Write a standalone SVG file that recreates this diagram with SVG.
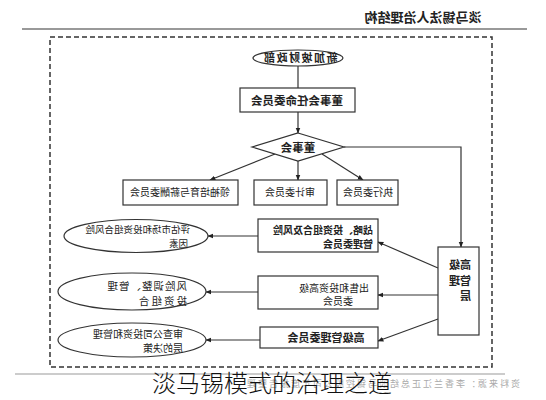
<svg xmlns="http://www.w3.org/2000/svg" width="546" height="400" viewBox="0 0 546 400">
<defs>
<marker id="arr" viewBox="0 0 10 10" refX="9" refY="5" markerWidth="6" markerHeight="6" orient="auto" markerUnits="userSpaceOnUse">
<path d="M0,1 L10,5 L0,9 z" fill="#222"/>
</marker>
</defs>
<style>
.box{fill:#fff;stroke:#333;stroke-width:1.2}
.ln{fill:none;stroke:#333;stroke-width:1.2}
.t{font-family:"Noto Sans CJK SC","Noto Sans",sans-serif;fill:#222}
.b{font-weight:bold}
.m{text-anchor:middle}
</style>
<rect width="546" height="400" fill="#fff"/>
<text class="t b m" x="-423" y="22" font-size="13" transform="scale(-1,1)">淡马锡法人治理结构</text>
<line x1="22" y1="29" x2="527" y2="29" stroke="#777" stroke-width="1.5"/>
<rect x="50" y="37" width="442" height="330" fill="none" stroke="#333" stroke-width="1.5" stroke-dasharray="5,3"/>
<g id="connectors">
<line class="ln" x1="298" y1="66" x2="298" y2="88"/>
<line class="ln" x1="298" y1="112" x2="298" y2="133" marker-end="url(#arr)"/>
<polyline class="ln" points="344,147 461,147 461,247" marker-end="url(#arr)"/>
<line class="ln" x1="275" y1="154" x2="210" y2="180" marker-end="url(#arr)"/>
<line class="ln" x1="298" y1="161" x2="298" y2="180" marker-end="url(#arr)"/>
<line class="ln" x1="322" y1="154" x2="363" y2="180" marker-end="url(#arr)"/>
<line class="ln" x1="438" y1="268" x2="378" y2="242" marker-end="url(#arr)"/>
<line class="ln" x1="438" y1="295" x2="378" y2="295" marker-end="url(#arr)"/>
<line class="ln" x1="438" y1="319" x2="378" y2="341" marker-end="url(#arr)"/>
<line class="ln" x1="258" y1="236" x2="208" y2="236" marker-end="url(#arr)"/>
<line class="ln" x1="258" y1="292" x2="206" y2="292" marker-end="url(#arr)"/>
<line class="ln" x1="260" y1="340" x2="206" y2="340" marker-end="url(#arr)"/>
</g>
<g id="mof">
<ellipse class="box" cx="298" cy="58" rx="45" ry="8"/>
<text class="t b m" x="-300" y="62" font-size="11" transform="scale(-1,1)" letter-spacing="1.5">新加坡财政部</text>
</g>
<g id="nominating">
<rect class="box" x="240" y="88" width="115" height="24"/>
<text class="t b m" x="-297" y="104.5" font-size="11.5" transform="scale(-1,1)">董事会任命委员会</text>
</g>
<g id="board">
<polygon class="box" points="298,133 344,147 298,161 252,147"/>
<text class="t b m" x="-298" y="151.5" font-size="11.5" transform="scale(-1,1)">董事会</text>
</g>
<g id="ldcc">
<rect class="box" x="123" y="180" width="115" height="25"/>
<text class="t m" x="-180" y="196" font-size="10" transform="scale(-1,1)">领袖培育与薪酬委员会</text>
</g>
<g id="audit">
<rect class="box" x="254" y="180" width="73" height="25"/>
<text class="t m" x="-290" y="196" font-size="10" transform="scale(-1,1)">审计委员会</text>
</g>
<g id="exco">
<rect class="box" x="337" y="180" width="61" height="25"/>
<text class="t m" x="-368" y="196" font-size="10" transform="scale(-1,1)">执行委员会</text>
</g>
<g id="senior">
<rect class="box" x="438" y="247" width="41" height="88"/>
<text class="t b" x="-471" y="269" font-size="11" transform="scale(-1,1)">高级</text>
<text class="t b" x="-471" y="284.5" font-size="11" transform="scale(-1,1)">管理</text>
<text class="t b" x="-471" y="300" font-size="11" transform="scale(-1,1)">层</text>
</g>
<g id="spcc">
<rect class="box" x="258" y="219" width="120" height="33"/>
<text class="t b" x="-373" y="234" font-size="10" transform="scale(-1,1)">战略、投资组合及风险</text>
<text class="t b" x="-373" y="247.5" font-size="10" transform="scale(-1,1)">管理委员会</text>
</g>
<g id="dic">
<rect class="box" x="258" y="276" width="120" height="33"/>
<text class="t m" x="-334" y="291.5" font-size="10" transform="scale(-1,1)">出售和投资高级</text>
<text class="t m" x="-338" y="305" font-size="10" transform="scale(-1,1)">委员会</text>
</g>
<g id="smc">
<rect class="box" x="260" y="327" width="118" height="21"/>
<text class="t b m" x="-326" y="342" font-size="11" transform="scale(-1,1)">高级管理委员会</text>
</g>
<g id="e1">
<ellipse class="box" cx="136" cy="236" rx="72" ry="16.5"/>
<text class="t" x="-190" y="233" font-size="9.5" transform="scale(-1,1)">评估市场和投资组合风险</text>
<text class="t" x="-188" y="246.5" font-size="9.5" transform="scale(-1,1)">因素</text>
</g>
<g id="e2">
<ellipse class="box" cx="132" cy="291.5" rx="74" ry="18.5"/>
<text class="t" x="-187" y="290" font-size="10.5" transform="scale(-1,1)" letter-spacing="1">风险调整、管理</text>
<text class="t" x="-187" y="304.5" font-size="10.5" transform="scale(-1,1)" letter-spacing="2">投资组合</text>
</g>
<g id="e3">
<ellipse class="box" cx="132" cy="340" rx="74" ry="17"/>
<text class="t" x="-183" y="337.5" font-size="10" transform="scale(-1,1)">审查公司投资和管理</text>
<text class="t" x="-183" y="351.5" font-size="10" transform="scale(-1,1)">层的决策</text>
</g>
<line x1="15" y1="374" x2="505" y2="374" stroke="#999" stroke-width="1.2"/>
<text class="t" x="-520" y="387" font-size="9" style="fill:#aaa" transform="scale(-1,1)" letter-spacing="2">资料来源：李香兰江正总结淡马锡控股公司年度报告整理</text>
<text x="272" y="392" font-size="24" font-family="'Noto Sans CJK SC','Noto Sans',sans-serif" font-weight="300" fill="#111" text-anchor="middle">淡马锡模式的治理之道</text>
</svg>
